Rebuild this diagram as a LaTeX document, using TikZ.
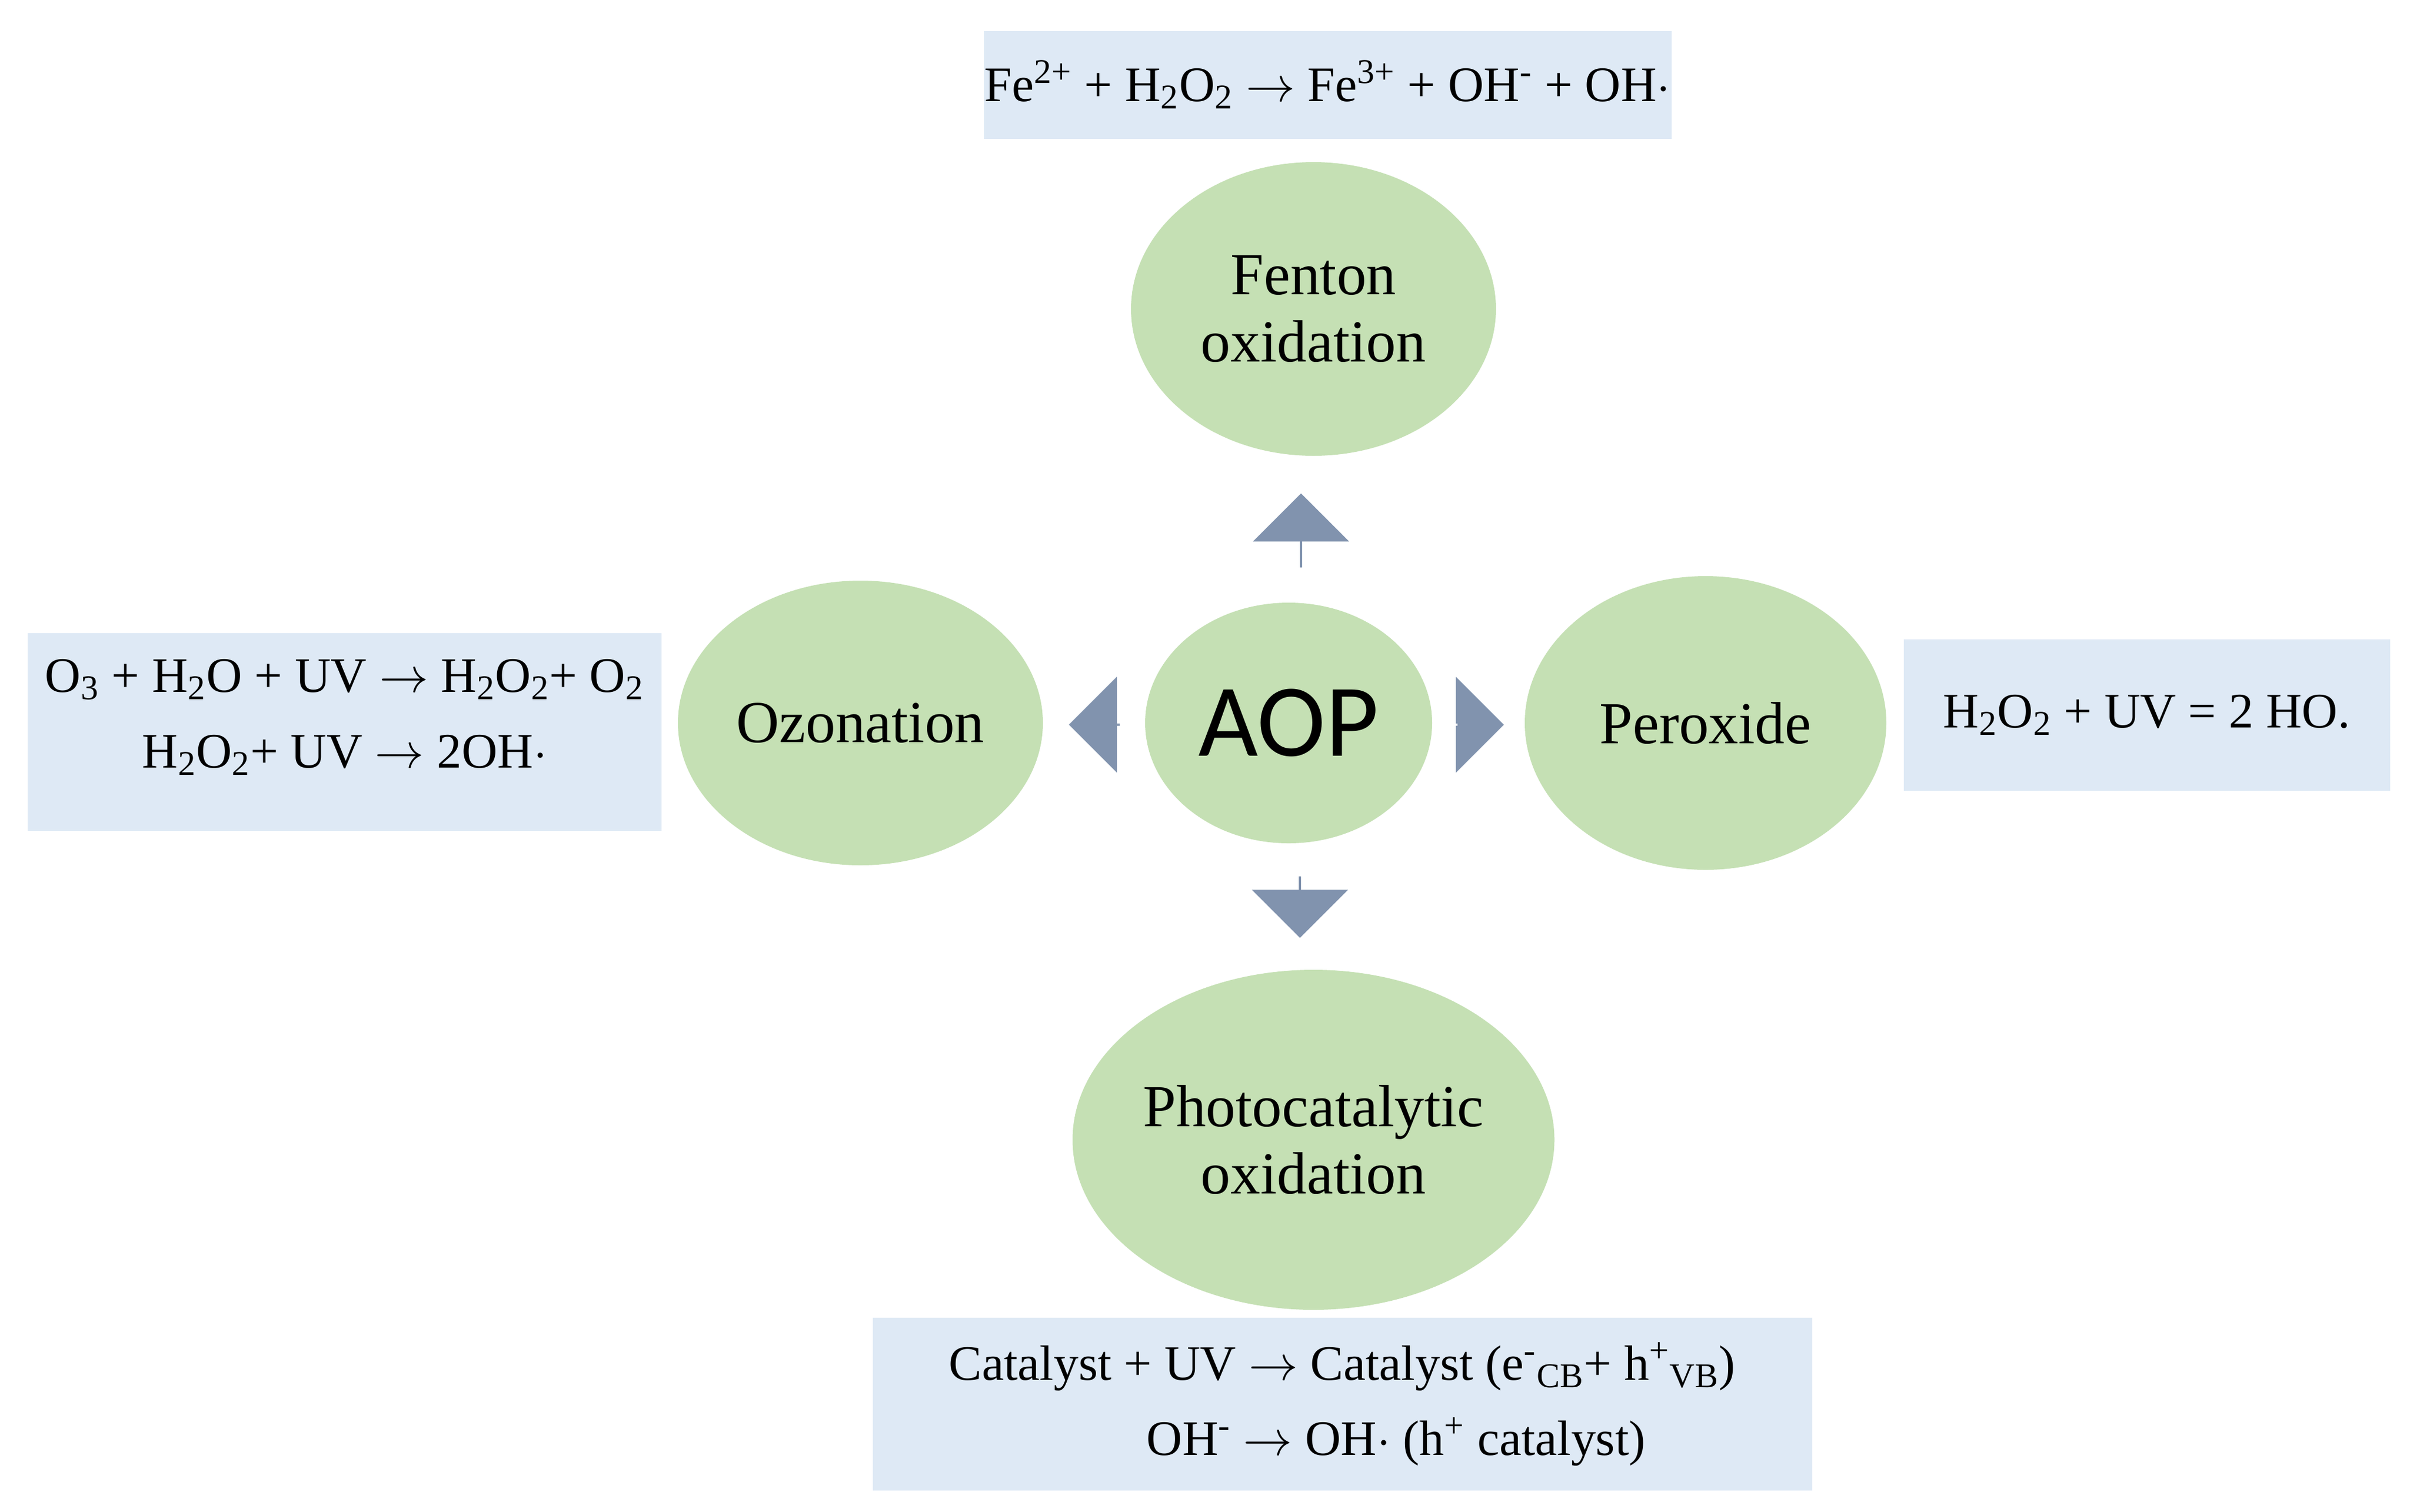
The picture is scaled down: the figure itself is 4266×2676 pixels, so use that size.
\documentclass[tikz,border=0pt]{standalone}
\usepackage{fontspec}
\setmainfont{Liberation Serif}
\newfontfamily\cali{Carlito}
\usetikzlibrary{shapes.geometric,shapes.arrows}
\definecolor{ell}{HTML}{C5E0B4}
\definecolor{box}{HTML}{DEE9F5}
\definecolor{arr}{HTML}{8193AE}
\begin{document}
\begin{tikzpicture}[x=0.1mm,y=-0.1mm,
  ov/.style={ellipse,fill=ell,inner sep=0pt,align=center,font=\fontsize{30}{34}\selectfont},
  bx/.style={fill=box,inner sep=0pt,align=center,font=\fontsize{25}{38}\selectfont},
  ar/.style={single arrow,fill=arr,inner sep=0pt,single arrow head extend=12mm*0.25,minimum width=170*0.1mm}]
\useasboundingbox (0,0) rectangle (4266,2676);
\node[bx,minimum width=121.7mm,minimum height=19.1mm] (tb) at (2350,150) {Fe\textsuperscript{2+} + H\textsubscript{2}O\textsubscript{2} $\rightarrow$ Fe\textsuperscript{3+} + OH\textsuperscript{-} + OH$\cdot$};
\node[bx,minimum width=112.2mm,minimum height=35mm] (lb) at (610,1296) {};
\node[bx,anchor=center] (lt) at (610,1270) {O\textsubscript{3} + H\textsubscript{2}O + UV $\rightarrow$ H\textsubscript{2}O\textsubscript{2}+ O\textsubscript{2}\\ H\textsubscript{2}O\textsubscript{2}+ UV $\rightarrow$ 2OH$\cdot$};
\node[bx,minimum width=86.1mm,minimum height=26.8mm] (rb) at (3800,1266) {H\textsubscript{2}O\textsubscript{2} + UV = 2 HO.};
\node[bx,minimum width=166.3mm,minimum height=30.6mm] (bb) at (2376,2486) {};
\node[bx,align=left] (bt) at (2376,2486) {Catalyst + UV $\rightarrow$ Catalyst (e\textsuperscript{-}\textsubscript{CB}+ h\textsuperscript{+}\textsubscript{VB})\\ \hspace*{35mm}OH\textsuperscript{-} $\rightarrow$ OH$\cdot$ (h\textsuperscript{+} catalyst)};
\node[ov,minimum width=64.6mm,minimum height=52mm] (fen) at (2325,547) {Fenton\\oxidation};
\node[ov,minimum width=50.8mm,minimum height=42.6mm,font=\cali\fontsize{52}{56}\selectfont] (aop) at (2281,1280) {AOP};
\node[ov,minimum width=64.6mm,minimum height=50.4mm] (ozo) at (1523,1280) {Ozonation};
\node[ov,minimum width=64mm,minimum height=52mm] (per) at (3019,1280) {Peroxide};
\node[ov,minimum width=76mm,minimum height=60.2mm] (pho) at (2325,2018) {Photocatalytic\\oxidation};
\node[ar,minimum height=13.1mm,shape border rotate=90] (au) at (2303,940) {};
\node[ar,minimum height=9mm,shape border rotate=180] (al) at (1938,1283) {};
\node[ar,minimum height=8.2mm,shape border rotate=0] (ari) at (2620,1283) {};
\node[ar,minimum height=10.9mm,shape border rotate=270] (ad) at (2301,1605) {};
\end{tikzpicture}
\end{document}
